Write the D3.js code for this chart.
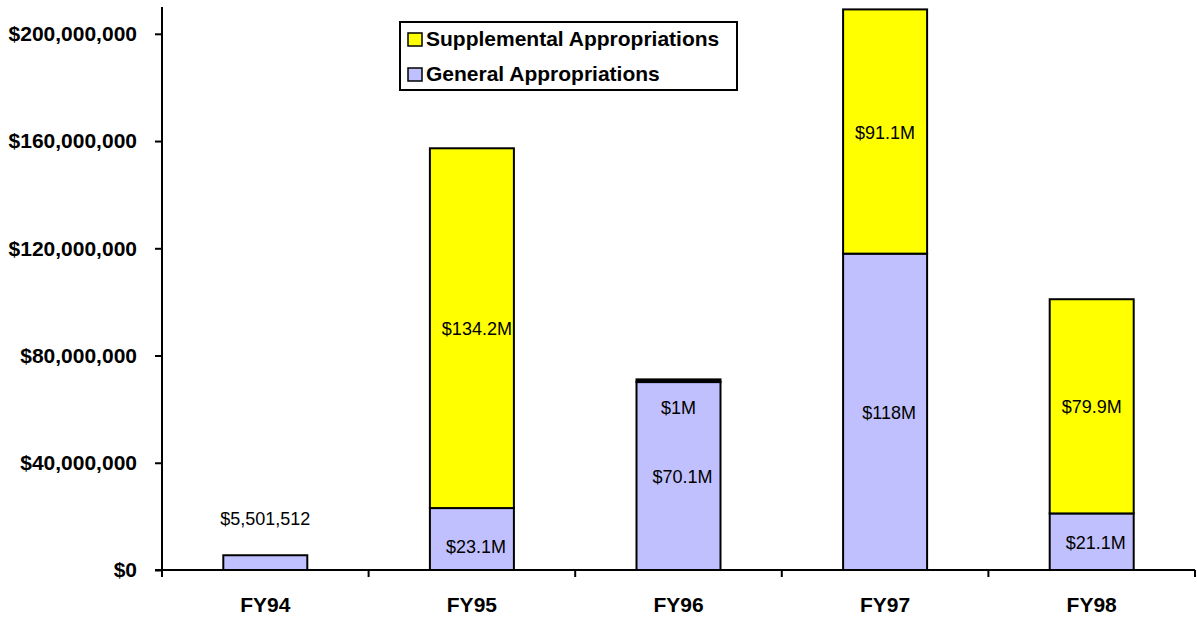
<!DOCTYPE html>
<html>
<head>
<meta charset="utf-8">
<script src="https://cdn.jsdelivr.net/npm/d3@7"></script>
<style>
  body { margin: 0; background: #fff; }
  svg { display: block; font-family: "Liberation Sans", Arial, sans-serif; }
</style>
</head>
<body>
<svg id="chart" width="1197" height="617"></svg>
<script>
// data
const years = ['FY94', 'FY95', 'FY96', 'FY97', 'FY98'];
const general = [5501512, 23100000, 70100000, 118000000, 21100000];
const supplemental = [0, 134200000, 1000000, 91100000, 79900000];
const generalLabels = ['$5,501,512', '$23.1M', '$70.1M', '$118M', '$21.1M'];
const supplementalLabels = ['', '$134.2M', '$1M', '$91.1M', '$79.9M'];
const yTicks = [0, 40000000, 80000000, 120000000, 160000000, 200000000];
const seriesNames = ['Supplemental Appropriations', 'General Appropriations'];
const seriesColors = ['#ffff00', '#c0c0ff'];

const svg = d3.select('#chart');
const plotLeft = 162, plotRight = 1195, plotTop = 7, plotBottom = 570;

const x = d3.scaleBand().domain(years).range([plotLeft, plotRight]);
const y = d3.scaleLinear().domain([0, 210000000]).range([plotBottom, plotTop]);
const barW = 84;

const rows = years.map((yr, i) => ({
  yr, gen: general[i], sup: supplemental[i],
  genLabel: generalLabels[i], supLabel: supplementalLabels[i]
}));

// bars
const bars = svg.append('g');
rows.forEach(d => {
  const bx = x(d.yr) + x.bandwidth() / 2 - barW / 2;
  bars.append('rect')
    .attr('x', bx).attr('width', barW)
    .attr('y', y(d.gen)).attr('height', y(0) - y(d.gen))
    .attr('fill', seriesColors[1]).attr('stroke', '#000').attr('stroke-width', 2);
  if (d.sup > 0) {
    const h = y(d.gen) - y(d.gen + d.sup);
    bars.append('rect')
      .attr('x', bx).attr('width', barW)
      .attr('y', y(d.gen + d.sup)).attr('height', h)
      // very thin segment just shows as a black edge
      .attr('fill', h < 4 ? '#000' : seriesColors[0])
      .attr('stroke', '#000').attr('stroke-width', 2);
  }
});

// value labels
const labels = svg.append('g').attr('font-size', 18).attr('text-anchor', 'middle').attr('fill', '#000');
rows.forEach((d, i) => {
  const cx = x(d.yr) + x.bandwidth() / 2;
  if (i === 0) {
    labels.append('text').attr('x', cx).attr('y', y(d.gen) - 30).text(d.genLabel);
    return;
  }
  labels.append('text').attr('x', cx + 4)
    .attr('y', (y(0) + y(d.gen)) / 2 + 7 + (i === 1 ? 7 : 0)).text(d.genLabel);
  if (d.supLabel) {
    const mid = (y(d.gen) + y(d.gen + d.sup)) / 2;
    // the tiny FY96 segment has its label pushed down into the bar
    const ly = (y(d.gen) - y(d.gen + d.sup)) < 10 ? y(d.gen + d.sup) + 35 : mid + 7;
    labels.append('text').attr('x', cx + (i === 1 ? 5 : 0)).attr('y', ly).text(d.supLabel);
  }
});

// y axis
const yAxis = svg.append('g').attr('transform', `translate(${plotLeft},0)`)
  .call(d3.axisLeft(y).tickValues(yTicks).tickSize(7).tickPadding(18)
    .tickFormat(v => '$' + d3.format(',')(v)));
yAxis.select('.domain').attr('d', `M0,${plotTop}V${plotBottom}`).attr('stroke-width', 2);
yAxis.selectAll('.tick line').attr('stroke-width', 2);
yAxis.selectAll('text').attr('font-size', 21).attr('font-weight', 'bold')
  .attr('font-family', '"Liberation Sans", Arial, sans-serif').attr('fill', '#000');

// x axis
const xAxis = svg.append('g').attr('transform', `translate(0,${plotBottom})`);
xAxis.append('line').attr('x1', plotLeft - 7).attr('x2', plotRight).attr('stroke', '#000').attr('stroke-width', 2);
xAxis.selectAll('line.tk').data(years.concat(['end'])).join('line')
  .attr('class', 'tk')
  .attr('x1', (d, i) => plotLeft + i * x.bandwidth()).attr('x2', (d, i) => plotLeft + i * x.bandwidth())
  .attr('y1', 0).attr('y2', 7).attr('stroke', '#000').attr('stroke-width', 2);
xAxis.selectAll('text').data(years).join('text')
  .attr('x', d => x(d) + x.bandwidth() / 2).attr('y', 42)
  .attr('text-anchor', 'middle').attr('font-size', 21).attr('font-weight', 'bold').text(d => d);

// legend
const lg = svg.append('g').attr('transform', 'translate(400,22)');
lg.append('rect').attr('width', 337).attr('height', 68).attr('fill', '#fff')
  .attr('stroke', '#000').attr('stroke-width', 2);
seriesNames.forEach((name, i) => {
  const row = lg.append('g').attr('transform', `translate(8,${11 + i * 35})`);
  row.append('rect').attr('width', 14).attr('height', 13)
    .attr('fill', seriesColors[i]).attr('stroke', '#000').attr('stroke-width', 1.5);
  row.append('text').attr('x', 18).attr('y', 13).attr('font-size', 21)
    .attr('font-weight', 'bold').text(name);
});
</script>
</body>
</html>
